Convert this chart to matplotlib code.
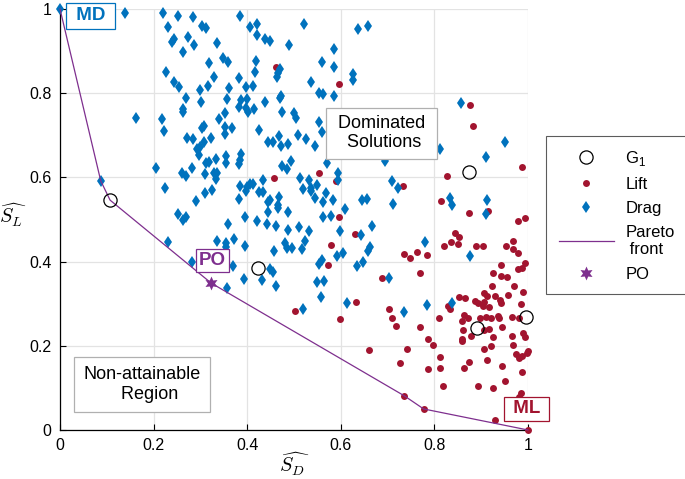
import matplotlib
matplotlib.use("Agg")
import matplotlib.pyplot as plt

plt.rcParams['font.family'] = ['Liberation Sans', 'DejaVu Sans']

# ---------------- data ----------------
drag_x = [0.0, 0.087, 0.139, 0.163,
          0.22, 0.252, 0.285, 0.385, 0.231, 0.304, 0.312, 0.406, 0.421, 0.421, 0.274, 0.244, 0.240,
          0.287, 0.336, 0.263, 0.349, 0.359, 0.319, 0.419, 0.227, 0.417, 0.329, 0.383, 0.244, 0.254,
          0.299, 0.317, 0.361, 0.398, 0.413, 0.270, 0.357, 0.302, 0.387, 0.400, 0.263, 0.263, 0.383,
          0.398, 0.402, 0.415, 0.218, 0.222, 0.340, 0.353, 0.304, 0.308, 0.353, 0.368, 0.353, 0.426,
          0.272, 0.284, 0.323, 0.308, 0.299, 0.293, 0.297, 0.355, 0.355, 0.387, 0.385, 0.383, 0.334,
          0.319, 0.312, 0.205, 0.282, 0.261, 0.270, 0.310, 0.329, 0.336, 0.334, 0.225, 0.310, 0.325,
          0.291, 0.383, 0.385, 0.400, 0.398, 0.406, 0.413, 0.426,
          0.439, 0.449, 0.522, 0.490, 0.637, 0.659, 0.586, 0.560, 0.586, 0.625, 0.625, 0.471, 0.466,
          0.464, 0.537, 0.554, 0.563, 0.586, 0.473, 0.471, 0.439, 0.475, 0.501, 0.505, 0.554, 0.560,
          0.509, 0.468, 0.526, 0.445, 0.456, 0.488, 0.545, 0.473, 0.695, 0.571, 0.494, 0.475, 0.486,
          0.595, 0.595, 0.513, 0.533, 0.537, 0.537, 0.550, 0.434, 0.520, 0.434, 0.569, 0.468, 0.545,
          0.449, 0.445, 0.584, 0.563, 0.466, 0.466, 0.488, 0.610, 0.646, 0.657, 0.710, 0.445,
          0.421, 0.443, 0.462, 0.488, 0.511, 0.533, 0.563, 0.580, 0.599, 0.644, 0.667, 0.524, 0.481,
          0.486, 0.496, 0.518, 0.458, 0.663, 0.659, 0.592, 0.605, 0.554, 0.560, 0.635, 0.648, 0.449,
          0.456, 0.432, 0.462, 0.550, 0.565, 0.558, 0.614, 0.520, 0.704,
          0.252, 0.263, 0.270, 0.231, 0.359, 0.396, 0.336, 0.355, 0.355, 0.372, 0.396, 0.282, 0.370,
          0.394, 0.357,
          0.856, 0.950, 0.911, 0.811, 0.723, 0.712, 0.834, 0.838, 0.913, 0.911, 0.779, 0.875, 0.838,
          0.785, 0.734]
drag_y = [1.0, 0.592, 0.99, 0.741,
          0.99, 0.983, 0.981, 0.983, 0.957, 0.96, 0.955, 0.957, 0.964, 0.938, 0.933, 0.929, 0.922,
          0.914, 0.919, 0.898, 0.884, 0.874, 0.872, 0.876, 0.850, 0.850, 0.839, 0.836, 0.827, 0.815,
          0.808, 0.817, 0.812, 0.815, 0.817, 0.789, 0.786, 0.779, 0.784, 0.786, 0.762, 0.755, 0.767,
          0.765, 0.755, 0.762, 0.739, 0.710, 0.739, 0.753, 0.717, 0.722, 0.720, 0.717, 0.703, 0.713,
          0.694, 0.691, 0.694, 0.684, 0.672, 0.667, 0.653, 0.651, 0.634, 0.656, 0.641, 0.632, 0.644,
          0.637, 0.634, 0.622, 0.622, 0.610, 0.603, 0.608, 0.610, 0.610, 0.596, 0.575, 0.563, 0.570,
          0.544, 0.549, 0.580, 0.577, 0.568, 0.584, 0.584, 0.565,
          0.929, 0.924, 0.964, 0.914, 0.952, 0.960, 0.905, 0.874, 0.862, 0.846, 0.831, 0.857, 0.848,
          0.839, 0.827, 0.800, 0.798, 0.793, 0.793, 0.789, 0.779, 0.755, 0.753, 0.741, 0.732, 0.708,
          0.701, 0.698, 0.691, 0.684, 0.684, 0.679, 0.675, 0.675, 0.639, 0.634, 0.639, 0.627, 0.620,
          0.610, 0.594, 0.598, 0.594, 0.575, 0.568, 0.582, 0.594, 0.572, 0.565, 0.563, 0.553, 0.551,
          0.546, 0.542, 0.546, 0.542, 0.534, 0.527, 0.518, 0.525, 0.546, 0.549, 0.591, 0.518,
          0.496, 0.489, 0.485, 0.475, 0.482, 0.473, 0.506, 0.508, 0.473, 0.463, 0.485, 0.449, 0.444,
          0.432, 0.432, 0.430, 0.425, 0.435, 0.425, 0.413, 0.420, 0.394, 0.404, 0.390, 0.399, 0.382,
          0.375, 0.356, 0.342, 0.352, 0.354, 0.316, 0.302, 0.287, 0.361,
          0.513, 0.499, 0.506, 0.447, 0.489, 0.506, 0.449, 0.444, 0.435, 0.454, 0.437, 0.399, 0.390,
          0.359, 0.337,
          0.777, 0.684, 0.648, 0.667, 0.575, 0.537, 0.551, 0.534, 0.546, 0.513, 0.447, 0.413, 0.302,
          0.297, 0.280]

lift_x = [0.736, 0.777, 1.0,
          0.462, 0.597, 0.554, 0.458, 0.590, 0.597, 0.631, 0.578, 0.573, 0.633, 0.503, 0.599, 0.689,
          0.702, 0.710, 0.719, 0.661, 0.727,
          0.877, 0.883, 0.988, 0.826, 0.732, 0.815, 0.915, 0.873, 0.978, 0.993, 0.843, 0.853, 0.836,
          0.851, 0.821, 0.888, 0.903, 0.954, 0.969, 0.967, 0.978, 0.736, 0.747, 0.762, 0.785, 0.770,
          0.993, 0.978, 0.988, 0.943, 0.926, 0.943, 0.956, 0.924, 0.971, 0.907, 0.913, 0.930, 0.958,
          0.990, 0.853, 0.866, 0.941, 0.943, 0.886, 0.894, 0.905, 0.903, 0.916, 0.986, 0.828, 0.834,
          0.809, 0.864, 0.871, 0.860, 0.898, 0.911, 0.922, 0.935, 0.937, 0.965, 0.980, 0.770, 0.862,
          0.905, 0.916, 0.945, 0.990,
          0.879, 0.926, 0.965, 0.993, 0.787, 0.798, 0.858, 0.860, 0.920, 0.907, 0.967, 0.742, 0.975,
          0.980, 0.988, 0.999, 0.997, 0.813, 0.873, 0.864, 0.913, 0.945, 0.787, 0.811, 0.988, 0.950,
          0.819, 0.894, 0.926, 0.986, 0.980, 0.930]
lift_y = [0.081, 0.050, 0.0,
          0.862, 0.822, 0.610, 0.598, 0.591, 0.506, 0.466, 0.439, 0.392, 0.304, 0.283, 0.264, 0.361,
          0.287, 0.266, 0.247, 0.190, 0.159,
          0.772, 0.722, 0.625, 0.603, 0.580, 0.544, 0.520, 0.515, 0.496, 0.504, 0.468, 0.458, 0.447,
          0.442, 0.437, 0.437, 0.437, 0.437, 0.449, 0.430, 0.420, 0.418, 0.409, 0.423, 0.416, 0.373,
          0.397, 0.382, 0.385, 0.392, 0.373, 0.366, 0.363, 0.342, 0.342, 0.325, 0.318, 0.318, 0.321,
          0.328, 0.316, 0.314, 0.309, 0.302, 0.306, 0.302, 0.304, 0.295, 0.292, 0.299, 0.295, 0.287,
          0.266, 0.273, 0.266, 0.259, 0.266, 0.268, 0.266, 0.271, 0.266, 0.268, 0.266, 0.245, 0.238,
          0.238, 0.240, 0.245, 0.230,
          0.223, 0.221, 0.223, 0.221, 0.216, 0.202, 0.211, 0.216, 0.200, 0.192, 0.202, 0.192, 0.181,
          0.171, 0.176, 0.188, 0.183, 0.173, 0.162, 0.147, 0.166, 0.152, 0.145, 0.147, 0.138, 0.116,
          0.105, 0.105, 0.100, 0.088, 0.078, 0.024]

g1_x = [0.107, 0.424, 0.873, 0.890, 0.995]
g1_y = [0.546, 0.385, 0.613, 0.242, 0.268]

pareto_x = [0.0, 0.087, 0.107, 0.323, 0.736, 0.777, 1.0]
pareto_y = [1.0, 0.592, 0.546, 0.349, 0.081, 0.050, 0.0]

po_x = [0.323]
po_y = [0.349]

ticks = [0, 0.2, 0.4, 0.6, 0.8, 1]
tick_labels = ['0', '0.2', '0.4', '0.6', '0.8', '1']

# ---------------- styles ----------------
BLUE = '#0072BD'
RED = '#A2142F'
PURPLE = '#7E2F8E'

fig = plt.figure(figsize=(6.85, 4.79), dpi=100)
ax = fig.add_axes([60 / 685, 49 / 479, 468 / 685, 421 / 479])

ax.plot(g1_x, g1_y, linestyle='none', marker='o', markersize=9.5, markerfacecolor='none',
        markeredgecolor='black', markeredgewidth=0.9, label='G$_\\mathregular{1}$', zorder=5, clip_on=False)
ax.plot(lift_x, lift_y, linestyle='none', marker='o', markersize=5.0, color=RED,
        markeredgewidth=0, label='Lift', zorder=3, clip_on=False)
ax.plot(drag_x, drag_y, linestyle='none', marker='d', markersize=6.5, color=BLUE,
        markeredgewidth=0, label='Drag', zorder=3, clip_on=False)
ax.plot(pareto_x, pareto_y, color=PURPLE, linewidth=0.9, label='Pareto\n front', zorder=4, clip_on=False)
ax.plot(po_x, po_y, linestyle='none', marker=(6, 1, 0), markersize=10, color=PURPLE,
        markeredgewidth=0, label='PO', zorder=6)

ax.set_xlim(0, 1)
ax.set_ylim(0, 1)
ax.set_xticks(ticks)
ax.set_xticklabels(tick_labels)
ax.set_yticks(ticks)
ax.set_yticklabels(tick_labels)
ax.tick_params(direction='in', length=4, width=0.8, labelsize=11.5, colors='black', pad=6)
ax.grid(True, color='#e3e3e3', linewidth=0.9)
ax.set_axisbelow(True)
for s in ['top', 'right']:
    ax.spines[s].set_visible(False)
for s in ['left', 'bottom']:
    ax.spines[s].set_linewidth(0.9)

ax.set_xlabel(r'$\widehat{S_D}$', fontsize=14.5, math_fontfamily='cm')
ax.xaxis.set_label_coords(0.5, -0.048)
ax.set_ylabel(r'$\widehat{S_L}$', fontsize=14.5, math_fontfamily='cm', rotation=0, va='center', ha='center')
ax.yaxis.set_label_coords(-0.1, 0.51)

# annotation boxes
ax.text(0.0655, 0.984, ' MD ', color=BLUE, fontsize=13.5, fontweight='bold', ha='center', va='center',
        bbox=dict(boxstyle='square,pad=0.25', fc='white', ec=BLUE, lw=0.9), zorder=7)
ax.text(0.326, 0.402, 'PO', color=PURPLE, fontsize=13.5, fontweight='bold', ha='center', va='center',
        bbox=dict(boxstyle='square,pad=0.15', fc='white', ec=PURPLE, lw=0.9), zorder=7)
ax.text(0.997, 0.050, ' ML ', color=RED, fontsize=13.5, fontweight='bold', ha='center', va='center',
        bbox=dict(boxstyle='square,pad=0.2', fc='white', ec=RED, lw=0.9), zorder=7)
ax.text(0.687, 0.705, ' Dominated \n Solutions', color='black', fontsize=13, ha='center', va='center',
        linespacing=1.2, bbox=dict(boxstyle='square,pad=0.4', fc='white', ec='#b0b0b0', lw=0.9), zorder=7)
ax.text(0.175, 0.108, 'Non-attainable\n   Region', color='black', fontsize=13, ha='center', va='center',
        linespacing=1.2, bbox=dict(boxstyle='square,pad=0.5', fc='white', ec='#b0b0b0', lw=0.9), zorder=7)

leg = fig.legend(loc='upper left', bbox_to_anchor=(546 / 685, 1 - 136 / 479), frameon=True,
                 fontsize=12, fancybox=False, edgecolor='#333333', handlelength=3.3,
                 borderpad=0.75, labelspacing=0.55, handletextpad=0.7, borderaxespad=0)
leg.get_frame().set_linewidth(0.8)

fig.savefig('out.png', dpi=100)
